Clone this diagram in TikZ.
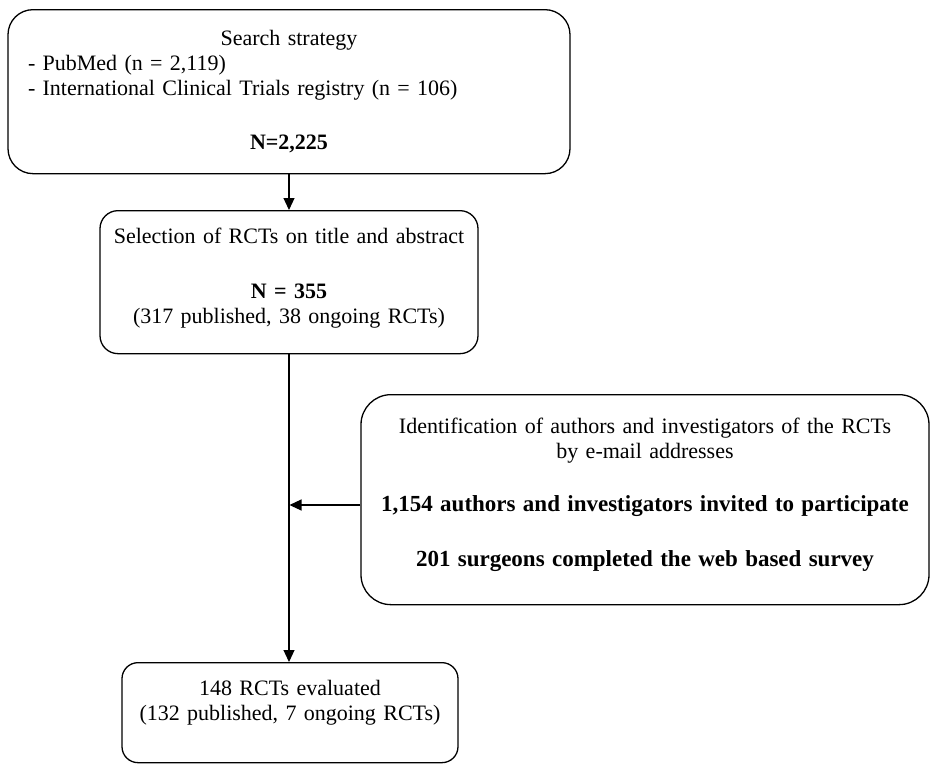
\documentclass[tikz,border=0pt]{standalone}
\usepackage{fontspec}
\setmainfont{Liberation Serif}
\usetikzlibrary{arrows.meta}
\begin{document}
\begin{tikzpicture}[x=1pt,y=1pt,
  box/.style={draw=black, line width=1.3pt, rounded corners=#1, inner xsep=0pt, inner ysep=0pt,
    align=center, anchor=north, font=\fontsize{22}{25}\selectfont},
  arr/.style={line width=1.2pt, -{Triangle[length=12pt,width=11pt]}}
]
\useasboundingbox (0,0) rectangle (930,-764);

\node[box=25pt, inner xsep=20pt, text width=522pt, align=left, text height=36pt, text depth=128pt] (b1) at (289,-9)
  {\makebox[\linewidth]{Search strategy}\\
   - PubMed (n = 2,119)\\
   - International Clinical Trials registry (n = 106)\\[29pt]
   \makebox[\linewidth]{\textbf{N=2,225}}};

\node[box=18pt, text width=378pt, text height=33pt, text depth=110pt] (b2) at (289,-210)
  {Selection of RCTs on title and abstract\\[30pt]
   \textbf{N = 355}\\
   (317 published, 38 ongoing RCTs)};

\node[box=30pt, text width=568pt, text height=39pt, text depth=171pt] (b3) at (645,-394)
  {Identification of authors and investigators of the RCTs\\
   by e-mail addresses\\[28pt]
   {\fontsize{23}{25}\selectfont\textbf{1,154 authors and investigators invited to participate}}\\[30pt]
   {\fontsize{23}{25}\selectfont\textbf{201 surgeons completed the web based survey}}};

\node[box=16pt, text width=336pt, text height=33pt, text depth=67pt] (b4) at (290,-662)
  {148 RCTs evaluated\\
   (132 published, 7 ongoing RCTs)};

\coordinate (j) at (289.5,-505);
\draw[arr] (b1.south) -- (b2.north);
\draw[arr] (b2.south) -- (b2.south |- b4.north);
\draw[arr] (b3.west |- j) -- (j);
\end{tikzpicture}
\end{document}
